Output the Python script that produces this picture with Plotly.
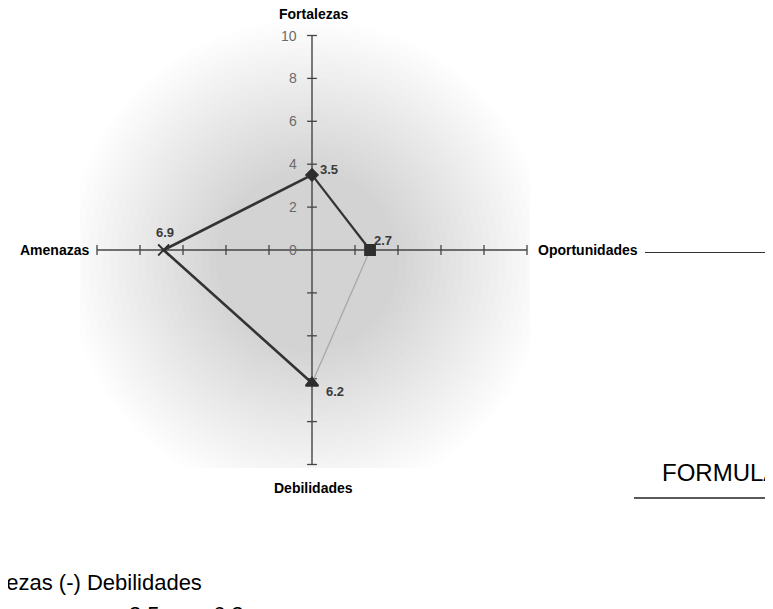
import plotly.graph_objects as go

# ---------------- data ----------------
categories = ["Fortalezas", "Oportunidades", "Debilidades", "Amenazas"]
values = [3.5, 2.7, 6.2, 6.9]
axis_max = 10
tick_values = [2, 4, 6, 8, 10]
label_values = [0, 2, 4, 6, 8, 10]
label_texts = ["0", "2", "4", "6", "8", "10"]
formula_title = "FORMULA"
formula_text = "Fortalezas (-) Debilidades"
formula_nums = ["3.5", "6.2"]

# ---------------- geometry helpers ----------------
OFF = 8                                  # default page body margin
W, H = 773, 609
L, T, R, B = 80 - OFF, 20 - OFF, 530 - OFF, 468 - OFF   # plot area (figure px)
CX, CY = 312 - OFF, 250 - OFF                            # origin (figure px)
SX, SY = 21.5, 21.45                     # px per unit
xr = [(L - CX) / SX, (R - CX) / SX]
yr = [(CY - B) / SY, (CY - T) / SY]

def px(x):
    """page pixel x -> paper fraction"""
    return (x - OFF - L) / (R - L)

def py(y):
    """page pixel y -> paper fraction"""
    return 1 - (y - OFF - T) / (B - T)

dirs = {"Fortalezas": (0, 1), "Oportunidades": (1, 0), "Debilidades": (0, -1), "Amenazas": (-1, 0)}
pts = {c: (dirs[c][0] * v, dirs[c][1] * v) for c, v in zip(categories, values)}

fig = go.Figure()

# ---------------- soft radial shading ----------------
shapes = []
gcx, gcy = -0.2, -0.5
n = 22
for k in range(n):
    r = 11.2 - k * 0.33
    shapes.append(dict(type="circle", xref="x", yref="y", layer="below",
                       x0=gcx - r, x1=gcx + r, y0=gcy - r, y1=gcy + r,
                       fillcolor="rgba(0,0,0,0.0074)", line=dict(width=0)))

# line after "Oportunidades" and line under FORMULA
shapes.append(dict(type="line", xref="paper", yref="paper",
                   x0=px(645), x1=px(790), y0=py(252.5), y1=py(252.5),
                   line=dict(color="#333333", width=1.2)))
shapes.append(dict(type="line", xref="paper", yref="paper",
                   x0=px(634), x1=px(790), y0=py(498), y1=py(498),
                   line=dict(color="#222222", width=1.5)))

# ---------------- axes (cross) ----------------
fig.add_trace(go.Scatter(x=[-axis_max, axis_max], y=[0, 0], mode="lines",
                         line=dict(color="#444444", width=1.4), hoverinfo="skip", showlegend=False))
fig.add_trace(go.Scatter(x=[0, 0], y=[-axis_max, axis_max], mode="lines",
                         line=dict(color="#444444", width=1.4), hoverinfo="skip", showlegend=False))
hx = [t for t in tick_values] + [-t for t in tick_values]
fig.add_trace(go.Scatter(x=hx, y=[0] * len(hx), mode="markers",
                         marker=dict(symbol="line-ns", size=7, line=dict(color="#444444", width=1.3)),
                         hoverinfo="skip", showlegend=False))
fig.add_trace(go.Scatter(x=[0] * len(hx), y=hx, mode="markers",
                         marker=dict(symbol="line-ew", size=7, line=dict(color="#444444", width=1.3)),
                         hoverinfo="skip", showlegend=False))

# ---------------- polygon edges ----------------
edges = [("Fortalezas", "Oportunidades", "#333333", 2.2),
         ("Oportunidades", "Debilidades", "#a8a8a8", 1.3),
         ("Debilidades", "Amenazas", "#333333", 2.6),
         ("Amenazas", "Fortalezas", "#333333", 2.6)]
for a, b, col, w in edges:
    fig.add_trace(go.Scatter(x=[pts[a][0], pts[b][0]], y=[pts[a][1], pts[b][1]], mode="lines",
                             line=dict(color=col, width=w), hoverinfo="skip", showlegend=False))

symbols = {"Fortalezas": "diamond", "Oportunidades": "square",
           "Debilidades": "triangle-up", "Amenazas": "x-thin-open"}
sizes = {"Fortalezas": 9, "Oportunidades": 10, "Debilidades": 11, "Amenazas": 11}
for c in categories:
    fig.add_trace(go.Scatter(x=[pts[c][0]], y=[pts[c][1]], mode="markers",
                             marker=dict(symbol=symbols[c], size=sizes[c], color="#2e2e2e",
                                         line=dict(color="#2e2e2e", width=1.8)),
                             showlegend=False, name=c))

# ---------------- annotations ----------------
ann = []
# tick labels
for v, t in zip(label_values, label_texts):
    ann.append(dict(x=0, y=v, xref="x", yref="y", text=t, showarrow=False,
                    xanchor="right", yanchor="middle", xshift=-13,
                    font=dict(family="Arial, Liberation Sans", size=14, color="#6a6a6a")))

# value labels
offsets = {"Fortalezas": (17, 5), "Oportunidades": (13, 10),
           "Debilidades": (23, -9), "Amenazas": (1, 18)}
for c, v in zip(categories, values):
    ox, oy = offsets[c]
    ann.append(dict(x=pts[c][0], y=pts[c][1], xref="x", yref="y", text=f"{v:.1f}",
                    showarrow=False, xanchor="center", yanchor="middle", xshift=ox, yshift=oy,
                    font=dict(family="Arial, Liberation Sans", size=13, color="#3a3a3a", weight="bold")))

# category labels
cat_pos = {"Fortalezas": dict(x=0, y=axis_max, xanchor="center", yanchor="middle", xshift=1, yshift=22),
           "Oportunidades": dict(x=axis_max, y=0, xanchor="left", yanchor="middle", xshift=9, yshift=0),
           "Debilidades": dict(x=0, y=-axis_max, xanchor="center", yanchor="middle", xshift=1, yshift=-23),
           "Amenazas": dict(x=-axis_max, y=0, xanchor="right", yanchor="middle", xshift=-6, yshift=0)}
for c in categories:
    p = cat_pos[c]
    ann.append(dict(xref="x", yref="y", text=c, showarrow=False,
                    font=dict(family="Arial, Liberation Sans", size=14, color="#000000", weight="bold"), **p))

# formula block
ann.append(dict(x=px(660), y=py(473), xref="paper", yref="paper", text=formula_title, showarrow=False,
                xanchor="left", yanchor="middle",
                font=dict(family="Arial, Liberation Sans", size=24, color="#000000")))
ann.append(dict(x=px(204), y=py(582), xref="paper", yref="paper", text=formula_text, showarrow=False,
                xanchor="right", yanchor="middle",
                font=dict(family="Arial, Liberation Sans", size=22, color="#000000")))
for t, xc in zip(formula_nums, [144, 228]):
    ann.append(dict(x=px(xc), y=py(614), xref="paper", yref="paper", text=t, showarrow=False,
                    xanchor="center", yanchor="middle",
                    font=dict(family="Arial, Liberation Sans", size=22, color="#000000")))

fig.update_layout(
    width=W, height=H,
    margin=dict(l=L, r=W - R, t=T, b=H - B, pad=0),
    paper_bgcolor="white", plot_bgcolor="white",
    xaxis=dict(range=xr, showgrid=False, zeroline=False, showticklabels=False, ticks="", showline=False),
    yaxis=dict(range=yr, showgrid=False, zeroline=False, showticklabels=False, ticks="", showline=False),
    shapes=shapes, annotations=ann, showlegend=False,
)

fig.write_html("out.html")
